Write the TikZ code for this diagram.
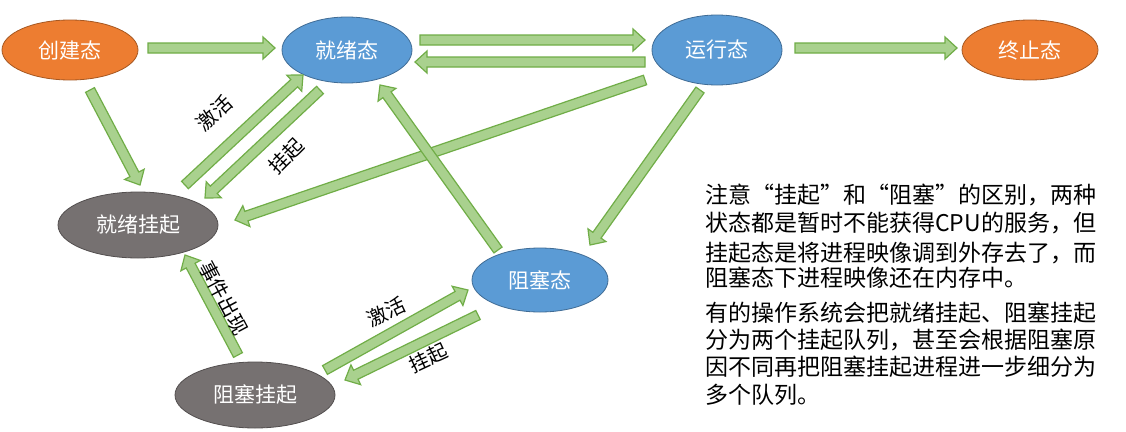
\documentclass[tikz,border=0pt]{standalone}
\usepackage{fontspec}
\newfontfamily\cjk{Noto Sans CJK SC}
\usetikzlibrary{calc,shapes.geometric}
\definecolor{ogr}{HTML}{ED7D31}
\definecolor{blu}{HTML}{5B9BD5}
\definecolor{gry}{HTML}{767171}
\definecolor{agreen}{HTML}{A9D18E}
\definecolor{dgreen}{HTML}{70AD47}
\newcommand\barrow[2]{%
  \draw[fill=agreen,draw=dgreen,line width=1.2pt] let \p1=(#1), \p2=(#2),
    \n1={atan2(\y2-\y1,\x2-\x1)}, \n2={veclen(\x2-\x1,\y2-\y1)} in
    ($(\p1)+(\n1+90:5pt)$) -- ($(\p1)+(\n1:\n2-12pt)+(\n1+90:5pt)$) --
    ($(\p1)+(\n1:\n2-12pt)+(\n1+90:11pt)$) -- (\p2) --
    ($(\p1)+(\n1:\n2-12pt)+(\n1-90:11pt)$) --
    ($(\p1)+(\n1:\n2-12pt)+(\n1-90:5pt)$) -- ($(\p1)+(\n1-90:5pt)$) -- cycle;}
\tikzset{
  st/.style={ellipse, draw=#1!70!black, line width=0.8pt, fill=#1, text=white, font=\cjk\fontsize{21}{25}\selectfont, inner sep=0pt},
  lab/.style={font=\cjk\fontsize{20}{24}\selectfont, inner sep=1pt},
  note/.style={font=\cjk\fontsize{23}{27}\selectfont, anchor=west, inner sep=0pt},
}
\begin{document}
\begin{tikzpicture}[x=1pt,y=-1pt]
\useasboundingbox[fill=white] (0,0) rectangle (1126,431);
\node[st=ogr, minimum width=136pt, minimum height=60pt] (cj) at (70,50) {创建态};
\node[st=blu, minimum width=130pt, minimum height=66pt] (jx) at (347,50) {就绪态};
\node[st=blu, minimum width=130pt, minimum height=70pt] (yx) at (717,50) {运行态};
\node[st=ogr, minimum width=136pt, minimum height=60pt] (zz) at (1030,50) {终止态};
\node[st=gry, minimum width=160pt, minimum height=66pt] (jg) at (138,225) {就绪挂起};
\node[st=blu, minimum width=136pt, minimum height=64pt] (zs) at (540,280) {阻塞态};
\node[st=gry, minimum width=160pt, minimum height=66pt] (zg) at (255,395) {阻塞挂起};
\coordinate (a1) at (148,48); \coordinate (b1) at (275,48);
\coordinate (a2) at (420,40); \coordinate (b2) at (645,40);
\coordinate (a3) at (645,62); \coordinate (b3) at (415,62);
\coordinate (a4) at (795,48); \coordinate (b4) at (957,48);
\coordinate (a5) at (90,90); \coordinate (b5) at (140,185);
\coordinate (a6) at (185,185); \coordinate (b6) at (303,75);
\coordinate (a7) at (320,90); \coordinate (b7) at (205,198);
\coordinate (a8) at (645,80); \coordinate (b8) at (235,220);
\coordinate (a9) at (700,90); \coordinate (b9) at (590,245);
\coordinate (a10) at (498,250); \coordinate (b10) at (380,85);
\coordinate (a11) at (238,355); \coordinate (b11) at (185,255);
\coordinate (a12) at (325,370); \coordinate (b12) at (468,290);
\coordinate (a13) at (478,315); \coordinate (b13) at (345,380);
\foreach \i in {1,...,13}{\barrow{a\i}{b\i}}
\node[lab, rotate=42] (l1) at (214,113) {激活};
\node[lab, rotate=45] (l2) at (286,156) {挂起};
\node[lab, rotate=-62] (l3) at (224,298) {事件出现};
\node[lab, rotate=25] (l4) at (386,312) {激活};
\node[lab, rotate=25] (l5) at (428,358) {挂起};
\node[note] (t1) at (705,195) {注意“挂起”和“阻塞”的区别，两种};
\node[note] (t2) at (705,223) {状态都是暂时不能获得CPU的服务，但};
\node[note] (t3) at (705,253) {挂起态是将进程映像调到外存去了，而};
\node[note] (t4) at (705,278) {阻塞态下进程映像还在内存中。};
\node[note] (t5) at (705,313) {有的操作系统会把就绪挂起、阻塞挂起};
\node[note] (t6) at (705,340) {分为两个挂起队列，甚至会根据阻塞原};
\node[note] (t7) at (705,367) {因不同再把阻塞挂起进程进一步细分为};
\node[note] (t8) at (705,395) {多个队列。};
\end{tikzpicture}
\end{document}
